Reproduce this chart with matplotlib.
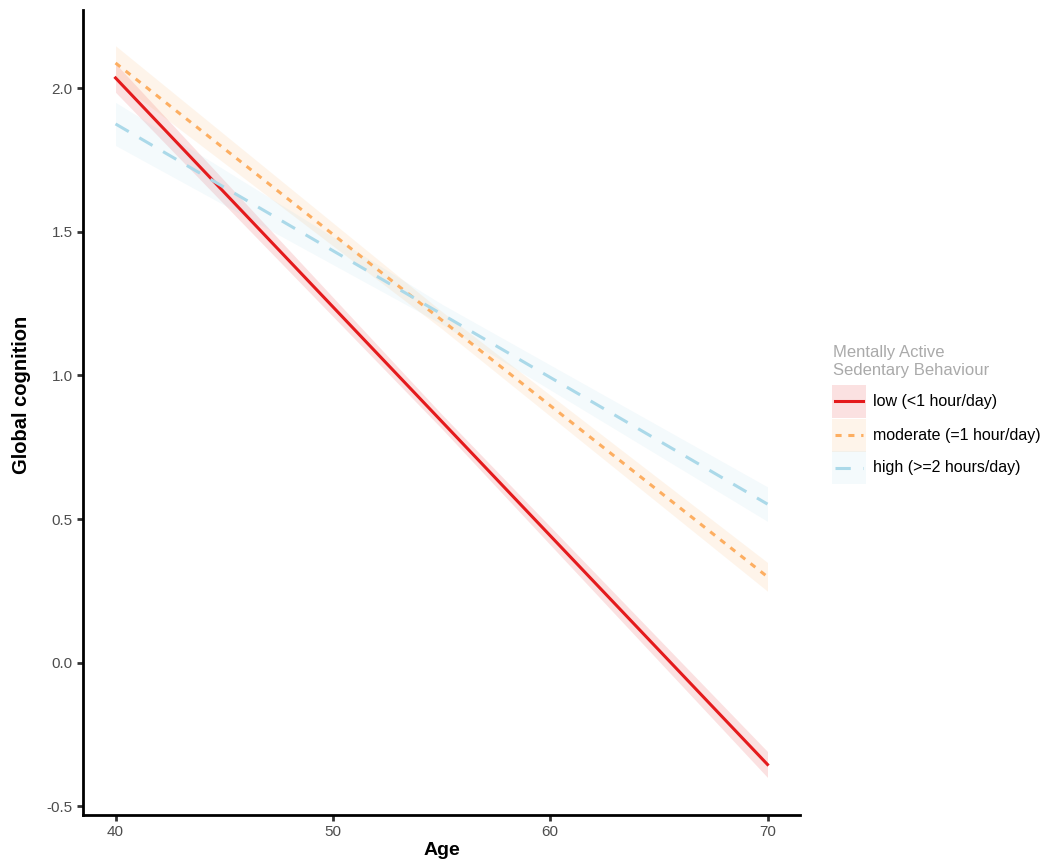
import matplotlib.pyplot as plt
from matplotlib.patches import Rectangle
from matplotlib.lines import Line2D

plt.rcParams['font.family'] = ['Liberation Sans', 'DejaVu Sans']

# fitted lines at age 40 and 70
ages = [40, 70]
low_fit = [2.035, -0.354]
moderate_fit = [2.087, 0.299]
high_fit = [1.875, 0.552]

# confidence band half-width at 40, 55, 70
band_ages = [40, 55, 70]
low_se = [0.05, 0.025, 0.045]
moderate_se = [0.06, 0.03, 0.05]
high_se = [0.075, 0.035, 0.06]

labels = ["low (<1 hour/day)", "moderate (=1 hour/day)", "high (>=2 hours/day)"]
colors = ["#E41A1C", "#FDAE61", "#ABD9E9"]
dashes = [None, (2, 2.2), (5, 4)]

W, H = 1050, 868
fig = plt.figure(figsize=(W / 100, H / 100), dpi=100)
ax = fig.add_axes([0.079, 0.061, 0.683, 0.927])

for fit, se, col, ds in zip([low_fit, moderate_fit, high_fit],
                            [low_se, moderate_se, high_se], colors, dashes):
    slope = (fit[1] - fit[0]) / (ages[1] - ages[0])
    mid = [fit[0] + slope * (a - ages[0]) for a in band_ages]
    lo = [m - s for m, s in zip(mid, se)]
    hi = [m + s for m, s in zip(mid, se)]
    ax.fill_between(band_ages, lo, hi, color=col, alpha=0.13, lw=0)
    ln, = ax.plot(ages, fit, color=col, lw=2.2)
    if ds is not None:
        ln.set_dashes(ds)

ax.set_xlim(38.5, 71.5)
ax.set_ylim(-0.53, 2.27)
ax.set_xticks([40, 50, 60, 70])
ax.set_yticks([-0.5, 0.0, 0.5, 1.0, 1.5, 2.0])
ax.set_yticklabels(["-0.5", "0.0", "0.5", "1.0", "1.5", "2.0"])

for s in ["top", "right"]:
    ax.spines[s].set_visible(False)
for s in ["left", "bottom"]:
    ax.spines[s].set_linewidth(2)
ax.tick_params(length=4, width=2, color="#333333", labelcolor="#4D4D4D",
               labelsize=11)
ax.set_xlabel("Age", fontsize=14, fontweight="bold", labelpad=2)
ax.set_ylabel("Global cognition", fontsize=14.5, fontweight="bold",
              labelpad=11, y=0.522)

# legend drawn by hand (pixel positions -> figure fraction)
def fx(px):
    return px / W

def fy(py):
    return 1 - py / H

fig.text(fx(833), fy(352), "Mentally Active", color="#AAAAAA", fontsize=12,
         va="center", ha="left")
fig.text(fx(833), fy(370), "Sedentary Behaviour", color="#AAAAAA", fontsize=12,
         va="center", ha="left")
row_top = [385, 419, 451]
row_h = 33
for i, (lab, col, ds) in enumerate(zip(labels, colors, dashes)):
    top = row_top[i]
    fig.add_artist(Rectangle((fx(832), fy(top + row_h)), fx(866) - fx(832),
                             row_h / H, transform=fig.transFigure,
                             facecolor=col, alpha=0.13, lw=0))
    yc = fy(top + row_h / 2)
    key = Line2D([fx(835), fx(863)], [yc, yc], transform=fig.transFigure,
                 color=col, lw=2.2)
    if ds is not None:
        key.set_dashes(ds)
    fig.add_artist(key)
    fig.text(fx(873), yc, lab, fontsize=11.5, va="center", ha="left",
             color="black")

fig.savefig("out.png", dpi=100)
